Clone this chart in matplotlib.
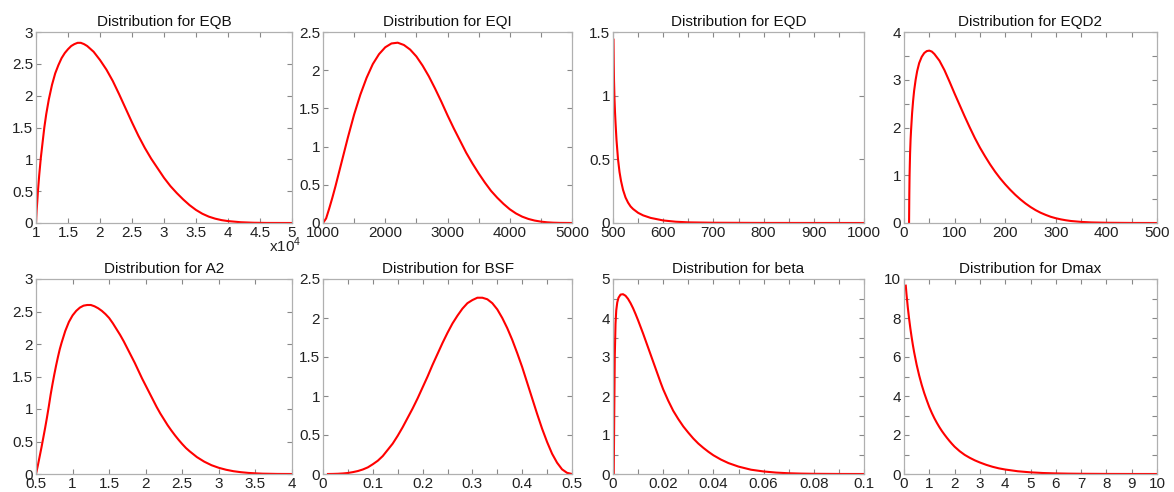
import numpy as np
import matplotlib
matplotlib.use("Agg")
import matplotlib.pyplot as plt
from matplotlib.ticker import FuncFormatter

plt.rcParams['font.family'] = ['Liberation Sans', 'DejaVu Sans']
plt.rcParams['mathtext.fontset'] = 'custom'
plt.rcParams['mathtext.rm'] = 'Liberation Sans'

# ---------------- data ----------------
titles = ["EQB", "EQI", "EQD", "EQD2", "A2", "BSF", "beta", "Dmax"]

# EQB (x in units of 1e4)
eqb_x = [1.00, 1.01, 1.02, 1.03, 1.05, 1.075, 1.10, 1.13, 1.16, 1.20, 1.25, 1.30, 1.35,
         1.40, 1.45, 1.50, 1.55, 1.60, 1.65, 1.70, 1.75, 1.80, 1.90, 2.00, 2.10, 2.20,
         2.30, 2.40, 2.50, 2.60, 2.70, 2.80, 2.90, 3.00, 3.10, 3.20, 3.30, 3.40, 3.50,
         3.60, 3.70, 3.80, 3.90, 4.00, 4.20, 4.40, 4.60, 5.00]
eqb_y = [0.00, 0.20, 0.34, 0.50, 0.75, 1.02, 1.24, 1.50, 1.71, 1.94, 2.17, 2.35, 2.48,
         2.59, 2.67, 2.73, 2.78, 2.81, 2.83, 2.83, 2.81, 2.78, 2.69, 2.56, 2.41, 2.23,
         2.02, 1.80, 1.58, 1.37, 1.18, 1.01, 0.86, 0.71, 0.58, 0.47, 0.37, 0.28, 0.205,
         0.145, 0.10, 0.068, 0.045, 0.03, 0.012, 0.004, 0.001, 0.0]

eqi_x = [1000, 1050, 1100, 1150, 1200, 1300, 1400, 1500, 1600, 1700, 1800, 1900, 2000,
         2100, 2200, 2300, 2400, 2500, 2600, 2700, 2800, 2900, 3000, 3100, 3200, 3300,
         3400, 3500, 3600, 3700, 3800, 3900, 4000, 4100, 4200, 4300, 4400, 4500, 4600,
         4700, 4800, 5000]
eqi_y = [0.0, 0.06, 0.19, 0.33, 0.48, 0.80, 1.12, 1.42, 1.68, 1.90, 2.08, 2.21, 2.30,
         2.35, 2.36, 2.33, 2.27, 2.18, 2.06, 1.92, 1.76, 1.59, 1.41, 1.24, 1.08, 0.92,
         0.78, 0.65, 0.53, 0.42, 0.33, 0.25, 0.18, 0.125, 0.083, 0.053, 0.032, 0.018,
         0.009, 0.004, 0.0015, 0.0]

eqd_x = [501, 501.5, 502, 503, 504, 505, 507, 510, 513, 516, 520, 525, 530, 535, 540,
         550, 560, 575, 600, 625, 650, 700, 800, 1000]
eqd_y = [1.44, 1.25, 1.12, 0.97, 0.87, 0.79, 0.65, 0.50, 0.40, 0.33, 0.26, 0.20, 0.16,
         0.13, 0.11, 0.08, 0.06, 0.04, 0.02, 0.01, 0.005, 0.002, 0.0005, 0.0]

eqd2_x = [10, 10.5, 11, 12, 13, 14, 16, 18, 20, 23, 26, 30, 35, 40, 45, 50, 55, 60, 70,
          80, 90, 100, 110, 120, 130, 140, 150, 160, 170, 180, 190, 200, 210, 220, 230,
          240, 250, 260, 270, 280, 290, 300, 310, 320, 330, 350, 370, 400, 450, 500]
eqd2_y = [0.0, 0.6, 1.0, 1.45, 1.75, 1.95, 2.30, 2.56, 2.77, 3.00, 3.18, 3.35, 3.48,
          3.56, 3.60, 3.61, 3.59, 3.54, 3.40, 3.20, 2.96, 2.71, 2.47, 2.23, 2.00, 1.78,
          1.58, 1.40, 1.23, 1.075, 0.935, 0.81, 0.695, 0.59, 0.495, 0.41, 0.335, 0.27,
          0.215, 0.17, 0.13, 0.10, 0.076, 0.057, 0.042, 0.023, 0.012, 0.005, 0.001, 0.0]

a2_x = [0.50, 0.525, 0.55, 0.575, 0.60, 0.625, 0.65, 0.675, 0.70, 0.725, 0.75, 0.775,
        0.80, 0.825, 0.85, 0.90, 0.95, 1.00, 1.05, 1.10, 1.15, 1.20, 1.25, 1.30, 1.35,
        1.40, 1.45, 1.50, 1.55, 1.60, 1.65, 1.70, 1.75, 1.80, 1.85, 1.90, 1.95, 2.00,
        2.05, 2.10, 2.15, 2.20, 2.25, 2.30, 2.35, 2.40, 2.45, 2.50, 2.55, 2.60, 2.70,
        2.80, 2.90, 3.00, 3.10, 3.20, 3.30, 3.40, 3.50, 3.60, 3.80, 4.00]
a2_y = [0.0, 0.13, 0.27, 0.41, 0.56, 0.71, 0.87, 1.04, 1.22, 1.38, 1.53, 1.67, 1.80,
        1.92, 2.02, 2.20, 2.34, 2.44, 2.51, 2.56, 2.59, 2.60, 2.60, 2.58, 2.55, 2.51,
        2.46, 2.40, 2.32, 2.23, 2.14, 2.04, 1.93, 1.82, 1.71, 1.59, 1.47, 1.36, 1.25,
        1.14, 1.03, 0.93, 0.84, 0.75, 0.67, 0.595, 0.525, 0.46, 0.40, 0.35, 0.26,
        0.19, 0.135, 0.095, 0.065, 0.043, 0.028, 0.017, 0.010, 0.005, 0.001, 0.0]

bsf_x = [0.01, 0.02, 0.03, 0.04, 0.05, 0.06, 0.07, 0.08, 0.09, 0.10, 0.11, 0.12, 0.13,
         0.14, 0.15, 0.16, 0.17, 0.18, 0.19, 0.20, 0.21, 0.22, 0.23, 0.24, 0.25, 0.26,
         0.27, 0.28, 0.29, 0.30, 0.31, 0.32, 0.33, 0.34, 0.35, 0.36, 0.37, 0.38, 0.39,
         0.40, 0.41, 0.42, 0.43, 0.44, 0.45, 0.46, 0.47, 0.48, 0.49, 0.50]
bsf_y = [0.0, 0.001, 0.003, 0.007, 0.013, 0.024, 0.038, 0.058, 0.085, 0.125, 0.17,
         0.23, 0.31, 0.39, 0.49, 0.60, 0.72, 0.84, 0.97, 1.11, 1.25, 1.40, 1.54, 1.68,
         1.81, 1.93, 2.03, 2.12, 2.19, 2.23, 2.26, 2.26, 2.24, 2.19, 2.11, 2.00, 1.87,
         1.72, 1.55, 1.37, 1.17, 0.97, 0.77, 0.58, 0.41, 0.26, 0.145, 0.06, 0.015, 0.0]

beta_x = [0.0003, 0.0005, 0.0007, 0.0010, 0.0013, 0.0017, 0.0022, 0.0030, 0.0040,
          0.0050, 0.0060, 0.0070, 0.0080, 0.0090, 0.0100, 0.0110, 0.0120, 0.0130,
          0.0140, 0.0150, 0.0160, 0.0170, 0.0180, 0.0190, 0.0200, 0.0220, 0.0240,
          0.0260, 0.0280, 0.0300, 0.0320, 0.0340, 0.0360, 0.0380, 0.0400, 0.0430,
          0.0460, 0.0500, 0.0550, 0.0600, 0.0650, 0.0700, 0.0750, 0.0800, 0.0900, 0.1000]
beta_y = [0.0, 1.6, 3.0, 3.85, 4.20, 4.40, 4.52, 4.60, 4.61, 4.57, 4.49, 4.38, 4.25,
          4.10, 3.94, 3.77, 3.60, 3.42, 3.24, 3.06, 2.88, 2.70, 2.52, 2.34, 2.17, 1.88,
          1.62, 1.41, 1.22, 1.06, 0.91, 0.78, 0.67, 0.57, 0.48, 0.37, 0.28, 0.19, 0.11,
          0.065, 0.036, 0.019, 0.010, 0.005, 0.001, 0.0]

dmax_x = [0.07, 0.10, 0.15, 0.20, 0.25, 0.30, 0.35, 0.40, 0.50, 0.60, 0.70, 0.80, 0.90,
          1.00, 1.10, 1.20, 1.30, 1.40, 1.50, 1.60, 1.70, 1.80, 1.90, 2.00, 2.20, 2.40,
          2.60, 2.80, 3.00, 3.25, 3.50, 3.75, 4.00, 4.50, 5.00, 5.50, 6.00, 6.50, 7.00,
          8.00, 9.00, 10.00]
dmax_y = [9.66, 9.20, 8.55, 7.98, 7.48, 7.03, 6.62, 6.25, 5.60, 5.05, 4.57, 4.15, 3.78,
          3.43, 3.13, 2.86, 2.62, 2.40, 2.20, 2.02, 1.85, 1.69, 1.54, 1.40, 1.17, 0.98,
          0.83, 0.70, 0.59, 0.47, 0.37, 0.29, 0.23, 0.14, 0.085, 0.05, 0.03, 0.018,
          0.011, 0.004, 0.001, 0.0]

xs = [eqb_x, eqi_x, eqd_x, eqd2_x, a2_x, bsf_x, beta_x, dmax_x]
ys = [eqb_y, eqi_y, eqd_y, eqd2_y, a2_y, bsf_y, beta_y, dmax_y]

# tick labels (major) and unlabeled ticks (minor)
xmajor = [np.arange(1, 5.01, 0.5), np.arange(1000, 5001, 1000), np.arange(500, 1001, 100),
          np.arange(0, 501, 100), np.arange(0.5, 4.01, 0.5), np.arange(0, 0.501, 0.1),
          np.arange(0, 0.1001, 0.02), np.arange(0, 10.01, 1)]
xminor = [[], np.arange(1500, 5000, 1000), np.arange(550, 1000, 100),
          np.arange(50, 500, 100), [], np.arange(0.05, 0.5, 0.1),
          np.arange(0.01, 0.1, 0.02), []]
ymajor = [np.arange(0, 3.01, 0.5), np.arange(0, 2.51, 0.5), np.arange(0, 1.51, 0.5),
          np.arange(0, 4.01, 1), np.arange(0, 3.01, 0.5), np.arange(0, 2.51, 0.5),
          np.arange(0, 5.01, 1), np.arange(0, 10.01, 2)]
yminor = [[], [], [], np.arange(0.5, 4, 1), [], [], np.arange(0.5, 5, 1), np.arange(1, 10, 2)]
xlims = [(1, 5), (1000, 5000), (500, 1000), (0, 500), (0.5, 4), (0, 0.5), (0, 0.1), (0, 10)]
ylims = [(0, 3), (0, 2.5), (0, 1.5), (0, 4), (0, 3), (0, 2.5), (0, 5), (0, 10)]

# ---------------- layout ----------------
W, H = 1174, 492
fig = plt.figure(figsize=(W / 100, H / 100), dpi=100)
lefts = [36, 323, 613, 904]
rights = [292, 572, 864, 1157]
rows = [(32, 223), (279, 474)]

txt = '#222222'
spine = '#b0b0b0'
fmt = FuncFormatter(lambda v, p: ('%g' % round(v, 6)))

for i in range(8):
    r, c = divmod(i, 4)
    top, bot = rows[r]
    ax = fig.add_axes([lefts[c] / W, 1 - bot / H, (rights[c] - lefts[c]) / W, (bot - top) / H])
    ax.plot(xs[i], ys[i], color='#ff0000', lw=1.5, solid_joinstyle='round')
    ax.set_xlim(*xlims[i])
    ax.set_ylim(*ylims[i])
    ax.set_xticks(xmajor[i])
    ax.set_yticks(ymajor[i])
    ax.set_xticks(xminor[i], minor=True)
    ax.set_yticks(yminor[i], minor=True)
    ax.xaxis.set_major_formatter(fmt)
    ax.yaxis.set_major_formatter(fmt)
    ax.tick_params(which='both', direction='in', top=True, right=True, length=3.5,
                   width=0.8, color='#888888', labelsize=11, labelcolor=txt, pad=2)
    for s in ax.spines.values():
        s.set_color(spine)
        s.set_linewidth(0.9)
    ax.set_title('Distribution for ' + titles[i], fontsize=11, color='#111111', pad=4)
    if i == 0:
        ax.text(1.035, -0.065, 'x10$^{\\mathregular{4}}$', transform=ax.transAxes,
                ha='right', va='top', fontsize=11, color=txt)

fig.savefig('out.png', dpi=100)
